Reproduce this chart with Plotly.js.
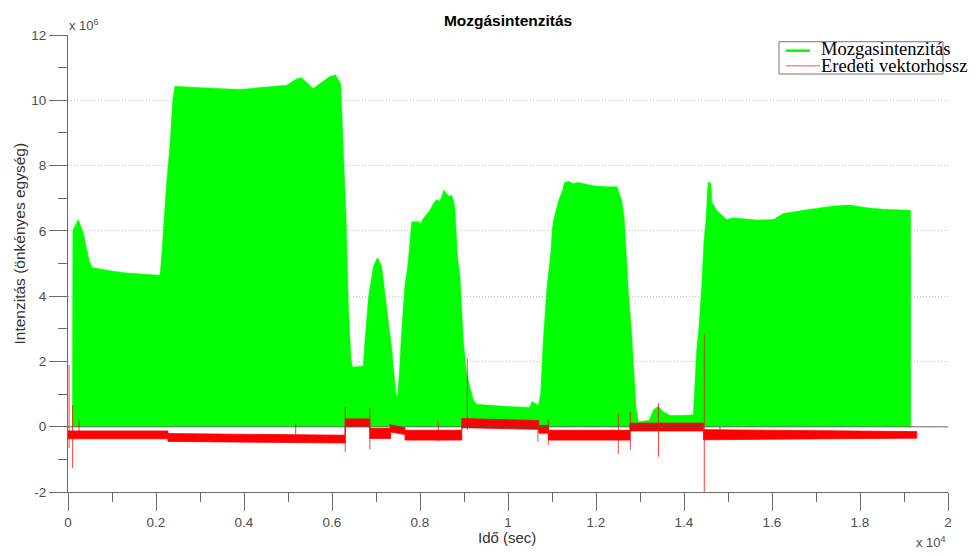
<!DOCTYPE html>
<html>
<head>
<meta charset="utf-8">
<script src="https://cdn.plot.ly/plotly-3.0.1.min.js"></script>
<style>
  html, body { margin: 0; padding: 0; background: #fff; }
  #chart { width: 978px; height: 556px; }
</style>
</head>
<body>
<div id="chart"></div>
<script>
// Movement intensity envelope (time in s, intensity in units of 10^6)
const greenX = [100, 110, 235, 350, 480, 550, 950, 1330, 2090, 2125, 2240, 2320, 2380, 2430, 2700, 3380,
  3910, 4360, 4970, 5200, 5310, 5570, 5950, 6080, 6200, 6257, 6318, 6370, 6432, 6470, 6710, 6750,
  6830, 6940, 7020, 7050, 7130, 7240, 7360, 7450, 7490, 7530, 7580, 7660, 7711, 7757, 7789, 7811,
  7984, 8000, 8075, 8227, 8302, 8379, 8455, 8545, 8607, 8666, 8720, 8773, 8795, 8818, 8857, 8893,
  8909, 8984, 9061, 9136, 9211, 9289, 9743, 10500, 10539, 10689, 10743, 10802, 10880, 10977, 11007,
  11045, 11091, 11143, 11197, 11243, 11280, 11370, 11484, 11598, 11789, 11939, 12243, 12484, 12523,
  12584, 12643, 12675, 12711, 12734, 12811, 12864, 12909, 12961, 13211, 13302, 13416, 13530, 13682,
  14211, 14289, 14341, 14402, 14455, 14500, 14530, 14552, 14614, 14630, 14743, 14970, 15120, 15652,
  16030, 16257, 16711, 17015, 17393, 17773, 18152, 18530, 19136, 19150, 19151];
const greenY = [0, 6.02, 6.35, 5.92, 5.1, 4.88, 4.78, 4.71, 4.64, 5.16, 7.46, 8.67, 10.0, 10.43, 10.41, 10.36,
  10.33, 10.39, 10.46, 10.66, 10.69, 10.36, 10.73, 10.78, 10.5, 8.5, 6.5, 3.79, 2.04, 1.82, 1.86, 2.65,
  3.98, 4.9, 5.15, 5.15, 4.9, 3.67, 2.35, 1.02, 0.92, 1.63, 2.86, 4.39, 4.8, 5.41, 5.92, 6.28,
  6.28, 6.2, 6.38, 6.63, 6.84, 6.96, 6.91, 7.25, 7.14, 7.06, 7.09, 6.89, 6.63, 5.93, 5.15, 4.8,
  4.59, 2.65, 1.63, 1.22, 0.82, 0.69, 0.64, 0.59, 0.77, 0.66, 1.02, 2.65, 4.18, 5.41, 6.07,
  6.38, 6.63, 6.89, 7.09, 7.25, 7.47, 7.52, 7.45, 7.48, 7.43, 7.38, 7.35, 7.35, 7.16,
  6.94, 6.38, 5.61, 5.1, 4.18, 2.86, 1.63, 0.61, 0.15, 0.2, 0.51, 0.63, 0.46, 0.34,
  0.36, 2.35, 3.06, 4.29, 5.71, 6.33, 7.14, 7.5, 7.45, 6.89, 6.63, 6.35, 6.4, 6.33,
  6.35, 6.53, 6.63, 6.68, 6.76, 6.79, 6.71, 6.66, 6.63, 6.63, 0];

// Original vector length: noise band (lower / upper edge) over time
const redX  = [0, 2270, 2270, 6300, 6300, 6860, 6860, 7330, 7330, 7660, 7660, 8950, 8950, 10700,
  10700, 10920, 10920, 12770, 12770, 14440, 14440, 19290];
const redLo = [-0.37, -0.37, -0.45, -0.5, 0.0, 0.0, -0.36, -0.36, -0.16, -0.24, -0.41, -0.41, -0.03, -0.08,
  -0.2, -0.2, -0.41, -0.41, -0.13, -0.13, -0.4, -0.35];
const redHi = [-0.13, -0.13, -0.21, -0.26, 0.24, 0.24, -0.05, -0.05, 0.06, -0.03, -0.11, -0.11, 0.25, 0.19,
  0.04, 0.04, -0.11, -0.11, 0.11, 0.11, -0.09, -0.15];

// Isolated spikes of the vector length signal
const spikeX  = [25, 105, 250, 5175, 6300, 6860, 7318, 8416, 9075, 10680, 10915, 12507, 12780, 13420, 14461, 14818];
const spikeLo = [-0.65, -1.27, -0.3, -0.35, -0.77, -0.7, -0.3, -0.45, -0.1, -0.46, -0.56, -0.84, -0.71, -0.92, -2.0, -0.3];
const spikeHi = [1.89, 0.66, 0.2, 0.1, 0.6, 0.57, 0.1, 0.15, 2.1, 0.1, 0.22, 0.41, 0.46, 0.72, 2.86, 0.0];

// Axis ticks
const xTickVals = [0, 2000, 4000, 6000, 8000, 10000, 12000, 14000, 16000, 18000, 20000];
const xTickText = ['0', '0.2', '0.4', '0.6', '0.8', '1', '1.2', '1.4', '1.6', '1.8', '2'];
const xMinorVals = [1000, 3000, 5000, 7000, 9000, 11000, 13000, 15000, 17000, 19000];
const yTickVals = [-2, 0, 2, 4, 6, 8, 10, 12];
const yTickText = ['-2', '0', '2', '4', '6', '8', '10', '12'];
const yMinorVals = [-1, 1, 3, 5, 7, 9, 11];

const seriesNames = ['Mozgasintenzitás', 'Eredeti vektorhossz'];

// Band polygon: upper edge forward, lower edge backward
const bandX = redX.concat(redX.slice().reverse());
const bandY = redHi.concat(redLo.slice().reverse());

// Spikes as vertical segments separated by gaps
const sX = [], sY = [];
spikeX.forEach((x, i) => { sX.push(x, x, null); sY.push(spikeLo[i], spikeHi[i], null); });

const traces = [
  {
    x: greenX, y: greenY, type: 'scatter', mode: 'lines',
    line: { color: '#00ff00', width: 0.5 }, fill: 'tozeroy', fillcolor: '#00ff00',
    hoverinfo: 'skip', showlegend: false
  },
  {
    x: bandX, y: bandY, type: 'scatter', mode: 'lines',
    line: { color: '#ff0000', width: 0.8 }, fill: 'toself', fillcolor: '#ff0000',
    hoverinfo: 'skip', showlegend: false
  },
  {
    x: sX, y: sY, type: 'scatter', mode: 'lines', connectgaps: false,
    line: { color: 'rgba(255,0,0,0.75)', width: 1 },
    hoverinfo: 'skip', showlegend: false
  }
];

const tickFont = { family: 'Liberation Sans, Arial, sans-serif', size: 13.5, color: '#4d4d4d' };
const axisColor = '#6a6a6a';

// Pixel helpers for the fixed plot box (68..948 x 35..492)
const px = v => (v - 68) / 880;
const py = v => (492 - v) / 457;

const layout = {
  width: 978, height: 556,
  margin: { l: 68, r: 30, t: 35, b: 64 },
  paper_bgcolor: '#ffffff', plot_bgcolor: '#ffffff',
  showlegend: false,
  title: {
    text: 'Mozgásintenzitás',
    font: { family: 'Liberation Sans, Arial, sans-serif', size: 15.5, color: '#000', weight: 'bold' },
    x: 0.5195, xanchor: 'center', y: 1 - 21 / 556, yanchor: 'middle'
  },
  xaxis: {
    range: [0, 20000], tickmode: 'array', tickvals: xTickVals, ticktext: xTickText,
    ticks: 'outside', ticklen: 18, tickwidth: 1, tickcolor: axisColor,
    showline: true, linecolor: axisColor, linewidth: 1, mirror: false,
    showgrid: false, zeroline: false, tickfont: tickFont,
    minor: { tickmode: 'array', tickvals: xMinorVals, ticks: 'outside', ticklen: 9, tickwidth: 1, tickcolor: axisColor, showgrid: false }
  },
  yaxis: {
    range: [-2, 12], tickmode: 'array', tickvals: yTickVals, ticktext: yTickText,
    ticks: 'outside', ticklen: 18, tickwidth: 1, tickcolor: axisColor,
    showline: true, linecolor: axisColor, linewidth: 1, mirror: false,
    showgrid: true, gridcolor: '#c4c4c4', gridwidth: 1, griddash: '1px,2px',
    zeroline: false, tickfont: tickFont,
    minor: { tickmode: 'array', tickvals: yMinorVals, ticks: 'outside', ticklen: 9, tickwidth: 1, tickcolor: axisColor, showgrid: false }
  },
  shapes: [
    // zero reference line across the axes
    { type: 'line', xref: 'paper', yref: 'y', x0: 0, x1: 1, y0: 0, y1: 0, layer: 'above',
      line: { color: 'rgba(80,80,80,0.55)', width: 1.5 } },
    // legend box and samples
    { type: 'rect', xref: 'paper', yref: 'paper', x0: px(779), x1: px(943), y0: py(74), y1: py(41.7), layer: 'above',
      line: { color: '#777', width: 1 }, fillcolor: '#ffffff' },
    { type: 'line', xref: 'paper', yref: 'paper', x0: px(785.7), x1: px(810), y0: py(50.7), y1: py(50.7), layer: 'above',
      line: { color: '#00ff00', width: 2.5 } },
    { type: 'line', xref: 'paper', yref: 'paper', x0: px(785.7), x1: px(820), y0: py(65.7), y1: py(65.7), layer: 'above',
      line: { color: 'rgba(255,0,0,0.45)', width: 1.5 } }
  ],
  annotations: [
    { text: 'x 10<sup>6</sup>', xref: 'paper', yref: 'paper', x: px(67), y: py(25), xanchor: 'left', yanchor: 'middle',
      showarrow: false, font: { family: 'Liberation Sans, Arial, sans-serif', size: 13, color: '#4d4d4d' } },
    { text: 'x 10<sup>4</sup>', xref: 'paper', yref: 'paper', x: px(948), y: py(542), xanchor: 'right', yanchor: 'middle',
      showarrow: false, font: { family: 'Liberation Sans, Arial, sans-serif', size: 13, color: '#4d4d4d' } },
    { text: 'Idő (sec)', xref: 'paper', yref: 'paper', x: px(507), y: py(537), xanchor: 'center', yanchor: 'middle',
      showarrow: false, font: { family: 'Liberation Sans, Arial, sans-serif', size: 15, color: '#333' } },
    { text: 'Intenzitás (önkényes egység)', xref: 'paper', yref: 'paper', x: px(19), y: py(243.5), textangle: -90,
      xanchor: 'center', yanchor: 'middle', showarrow: false,
      font: { family: 'Liberation Sans, Arial, sans-serif', size: 15.5, color: '#333' } },
    { text: seriesNames[0], xref: 'paper', yref: 'paper', x: px(820), y: py(49), xanchor: 'left', yanchor: 'middle',
      showarrow: false, borderpad: 0, font: { family: 'Liberation Serif, Times New Roman, serif', size: 18.5, color: '#000' } },
    { text: seriesNames[1], xref: 'paper', yref: 'paper', x: px(820), y: py(65.5), xanchor: 'left', yanchor: 'middle',
      showarrow: false, borderpad: 0, font: { family: 'Liberation Serif, Times New Roman, serif', size: 18.5, color: '#000' } }
  ]
};

Plotly.newPlot('chart', traces, layout, { staticPlot: true, displayModeBar: false });
</script>
</body>
</html>
